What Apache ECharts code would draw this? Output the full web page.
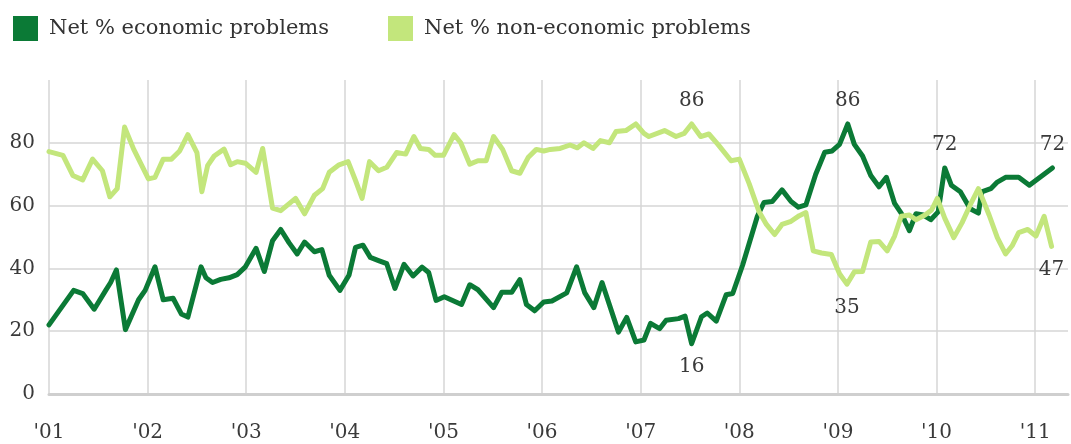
<!DOCTYPE html>
<html>
<head>
<meta charset="utf-8">
<script src="https://cdn.jsdelivr.net/npm/echarts@6/dist/echarts.min.js"></script>
<style>
html,body{margin:0;padding:0;background:#fff;}
#chart{width:1071px;height:444px;}
</style>
</head>
<body>
<div id="chart"></div>
<script>
// months since January 2001
const econMonths = [0,3.0,4.1,5.5,6.9,7.5,8.2,9.3,10.9,11.7,12.9,13.9,15.1,16.1,16.9,18.5,19.1,19.9,20.9,21.9,22.9,23.9,25.2,26.2,27.2,28.2,29.2,30.2,31.1,32.3,33.2,34.1,35.4,36.5,37.3,38.2,39.1,40.1,41.1,42.1,43.2,44.3,45.4,46.2,47.1,48.1,50.2,51.2,52.2,54.1,55.1,56.3,57.3,58.1,59.1,60.2,61.2,63.0,64.2,65.2,66.3,67.3,69.3,70.3,71.4,72.4,73.2,74.3,75.1,76.6,77.4,78.2,79.4,80.1,81.2,82.4,83.2,84.4,86.2,87.0,88.0,89.2,90.3,91.2,92.1,93.3,94.4,95.3,96.2,97.2,98.0,99.0,100.0,101.0,101.9,102.9,103.7,104.7,105.5,106.4,107.3,108.2,109.0,109.8,110.9,112.1,113.1,113.5,114.6,115.4,116.4,118.0,119.3,122.1];
const econValues = [22,33,32,27,33,35.5,39.5,20.5,30,33,40.5,30,30.5,25.5,24.5,40.5,37,35.5,36.5,37,38,40.5,46.4,39,48.8,52.4,48.2,44.6,48.4,45.3,46,37.8,33,37.8,46.7,47.4,43.5,42.5,41.5,33.6,41.3,37.6,40.4,38.7,29.8,31,28.5,34.8,33.2,27.5,32.4,32.4,36.4,28.5,26.5,29.3,29.6,32.2,40.5,32.2,27.5,35.5,19.7,24.4,16.6,17.2,22.5,20.8,23.5,24,24.8,16,24.6,25.8,23.2,31.6,32,41,56.6,61,61.3,65,61.3,59.5,60.2,70,77,77.4,79.5,86,79.5,75.8,69.6,66,69,60.7,57.6,52,57.4,57,55.5,58,72,66.5,64.4,59,57.6,64.4,65.4,67.5,69,69,66.5,72];

const nonEconMonths = [0,1.7,2.9,4.1,5.3,6.5,7.4,8.3,9.2,10.3,11.1,12.1,12.9,13.9,14.9,15.9,16.9,18.0,18.6,19.3,20.1,21.3,22.1,22.9,23.9,25.2,26.0,27.2,28.2,30.0,31.1,32.3,33.3,34.1,35.3,36.4,37.3,38.1,39.0,40.1,41.1,42.3,43.4,44.4,45.2,46.2,47.0,48.0,49.3,50.1,51.2,52.2,53.2,54.1,55.2,56.3,57.3,58.3,59.3,60.2,61.0,62.2,63.4,64.3,65.1,66.2,67.1,68.2,69.0,70.2,71.4,72.4,73.0,74.9,76.3,77.3,78.2,79.3,80.3,81.4,83.0,84.0,85.2,86.4,87.3,88.3,89.2,90.3,91.3,92.1,93.0,94.0,95.2,96.2,97.1,98.0,99.0,100.0,101.0,102.0,102.9,103.7,104.7,105.5,106.6,107.4,108.1,109.0,110.1,111.1,112.1,113.1,114.4,115.4,116.4,117.2,118.0,119.1,120.1,121.1,122.0];
const nonEconValues = [77.2,76,69.6,68.2,74.8,71.1,62.8,65.4,85,78,73.8,68.5,69,74.8,74.8,77.4,82.6,76.9,64.4,72.7,75.8,78,73,74,73.5,70.6,78.2,59.2,58.4,62.3,57.4,63.3,65.4,70.6,73,74,68,62.3,74,71.1,72.2,76.9,76.4,82,78.2,77.9,76,76,82.6,80,73.2,74.3,74.3,82,77.9,71.1,70.3,75.3,77.9,77.4,77.9,78.2,79.3,78.4,80,78.2,80.7,80,83.6,83.9,86,83,82,83.9,82,83,86,82,82.8,79.5,74.3,74.8,67,58.1,54,50.8,54,55,56.8,57.8,45.6,44.9,44.4,38.3,35,38.9,39,48.4,48.6,45.6,50.3,56.6,57,55.5,57,58.6,62.3,56,49.8,54.5,60.2,65.4,57,49.8,44.6,47.2,51.4,52.4,50.3,56.6,47];

const seriesNames = ['Net % economic problems', 'Net % non-economic problems'];
const yTicks = [0, 20, 40, 60, 80];
const yearLabels = ["'01","'02","'03","'04","'05","'06","'07","'08","'09","'10","'11"];

// annotated points: [series index, month, text label, side]
const annotations = [
  [1, 78.2, '86', 'top'],
  [0, 78.2, '16', 'bottom'],
  [0, 97.2, '86', 'top'],
  [1, 97.1, '35', 'bottom'],
  [0, 109.0, '72', 'top'],
  [0, 122.1, '72', 'top'],
  [1, 122.0, '47', 'bottom']
];

const DARK = '#0b7a36';
const LIGHT = '#c3e67c';
const FONT = 'DejaVu Serif';
const TXT = '#3a3a3a';

function buildData(sIdx, months, values) {
  return months.map((m, i) => {
    const ann = annotations.find(a => a[0] === sIdx && a[1] === m);
    const item = { value: [m, values[i]] };
    if (ann) {
      item.label = {
        show: true, position: ann[3], distance: 13,
        formatter: ann[2], fontFamily: FONT, fontSize: 20, color: TXT
      };
    }
    return item;
  });
}

const chart = echarts.init(document.getElementById('chart'), null, { renderer: 'canvas' });
const gray = '#d6d6d6';
chart.setOption({
  animation: false,
  backgroundColor: '#fff',
  legend: [
    { data: [seriesNames[0]], left: 8, top: 11, icon: 'rect', itemWidth: 25, itemHeight: 25,
      textStyle: { fontFamily: FONT, fontSize: 21, color: '#333', padding: [0, 0, 0, 6] }, selectedMode: false },
    { data: [seriesNames[1]], left: 383, top: 11, icon: 'rect', itemWidth: 25, itemHeight: 25,
      textStyle: { fontFamily: FONT, fontSize: 21, color: '#333', padding: [0, 0, 0, 6] }, selectedMode: false }
  ],
  grid: { left: 49, right: 0, top: 80, bottom: 50, containLabel: false },
  xAxis: {
    type: 'value', min: 0, max: 124, interval: 12,
    axisLine: { show: true, lineStyle: { color: '#cfcfcf', width: 3 } },
    axisTick: { show: false },
    axisLabel: {
      margin: 29, fontFamily: FONT, fontSize: 20, color: TXT,
      formatter: v => (v % 12 === 0 && v / 12 < yearLabels.length) ? yearLabels[v / 12] : ''
    },
    splitLine: { show: true, lineStyle: { color: [gray,gray,gray,gray,gray,gray,gray,gray,gray,gray,gray,'rgba(0,0,0,0)'], width: 1.5 } }
  },
  yAxis: {
    type: 'value', min: 0, max: 100, interval: 20,
    axisLine: { show: false }, axisTick: { show: false },
    axisLabel: {
      margin: 14, fontFamily: FONT, fontSize: 20, color: TXT,
      formatter: v => yTicks.indexOf(v) >= 0 ? String(v) : ''
    },
    splitLine: { show: true, lineStyle: { color: ['rgba(0,0,0,0)', gray, gray, gray, gray, 'rgba(0,0,0,0)'], width: 1.5 } }
  },
  series: [
    { name: seriesNames[0], type: 'line', data: buildData(0, econMonths, econValues),
      color: DARK, lineStyle: { color: DARK, width: 5, join: 'round', cap: 'round' },
      itemStyle: { color: DARK }, symbol: 'circle', symbolSize: 1, showSymbol: true, showAllSymbol: true,
      z: 2 },
    { name: seriesNames[1], type: 'line', data: buildData(1, nonEconMonths, nonEconValues),
      color: LIGHT, lineStyle: { color: LIGHT, width: 5, join: 'round', cap: 'round' },
      itemStyle: { color: LIGHT }, symbol: 'circle', symbolSize: 1, showSymbol: true, showAllSymbol: true,
      z: 3 }
  ]
});
</script>
</body>
</html>
